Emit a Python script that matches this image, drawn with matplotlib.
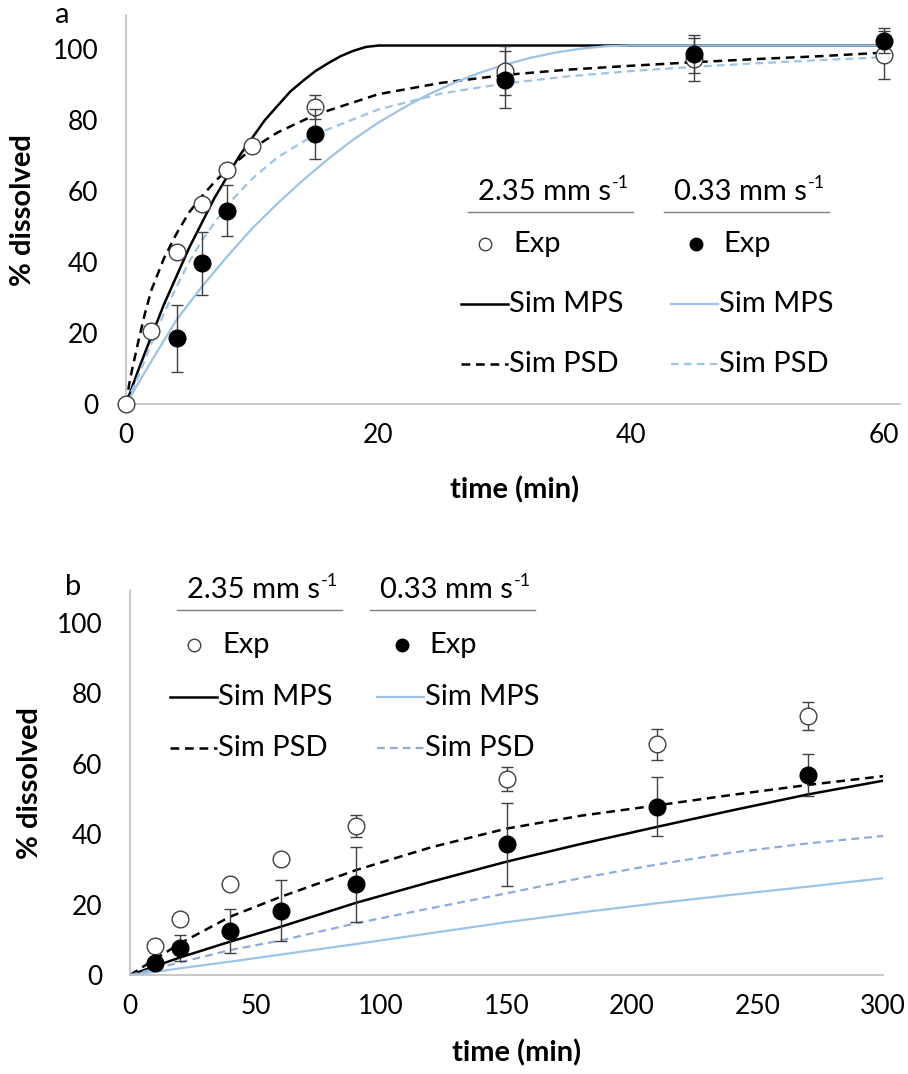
import matplotlib
matplotlib.use("Agg")
import matplotlib.pyplot as plt
from matplotlib.lines import Line2D

plt.rcParams['font.family'] = ['Lato', 'DejaVu Sans']
plt.rcParams['mathtext.fontset'] = 'custom'
plt.rcParams['mathtext.rm'] = 'Lato'
plt.rcParams['mathtext.it'] = 'Lato:italic'
plt.rcParams['mathtext.bf'] = 'Lato:bold'

# ---------------- Panel a data ----------------
a_t_exp = [0, 2, 4, 6, 8, 10, 15, 30, 45, 60]
a_fast_exp = [0, 20.6, 42.8, 56.3, 65.9, 72.7, 83.7, 93.9, 97.1, 98.3]
a_fast_err = [0, 0, 0, 0, 0, 0, 3.5, 6.9, 6.0, 6.8]
a_t_slow = [4, 6, 8, 15, 30, 45, 60]
a_slow_exp = [18.5, 39.6, 54.5, 76.1, 91.4, 98.6, 102.3]
a_slow_err = [9.4, 8.8, 7.1, 7.0, 8.0, 5.3, 3.5]

a_t_mps_fast = [0, 1, 2, 3, 4, 5, 6, 7, 8, 9, 10, 11, 12, 13, 14, 15, 16, 17, 18, 19, 20, 60]
a_mps_fast = [0, 9.8, 19, 28, 36, 44, 51, 58, 64, 70, 75, 80, 84, 88, 91, 93.8, 96, 98, 99.5, 100.6, 101, 101]
a_t_psd_fast = [0, 0.25, 0.5, 1, 1.5, 2, 3, 4, 5, 6, 7, 8, 10, 12, 15, 20, 25, 30, 35, 40, 45, 50, 55, 60]
a_psd_fast = [0, 5.5, 10, 18, 25.5, 32, 41, 48, 54, 58.5, 62.5, 66, 72, 76.5, 81.5, 87.3, 90.5, 92.7, 94.2, 95.3, 96.3, 97.2, 98, 99]
a_t_mps_slow = [0, 2, 4, 6, 8, 10, 12, 14, 16, 18, 20, 22, 24, 26, 28, 30, 32, 34, 36, 38, 40, 60]
a_mps_slow = [0, 12, 23.7, 33, 41.5, 49.5, 56.5, 63, 69, 74.5, 79.3, 83.5, 87.3, 90.5, 93.3, 95.6, 97.5, 99, 100.1, 100.8, 101, 101]
a_t_psd_slow = [0, 0.5, 1, 2, 3, 4, 5, 6, 8, 10, 12, 15, 20, 25, 30, 35, 40, 45, 50, 55, 60]
a_psd_slow = [0, 4, 8, 17, 25.5, 33, 40, 46, 56, 63.5, 69.5, 76, 83, 87.5, 90.3, 92.3, 93.8, 95, 96, 96.9, 97.7]

# ---------------- Panel b data ----------------
b_t_exp = [10, 20, 40, 60, 90, 150, 210, 270]
b_fast_exp = [8.3, 15.9, 25.8, 33.0, 42.4, 55.7, 65.5, 73.6]
b_fast_err = [0, 0, 0, 0, 3.2, 3.4, 4.4, 3.9]
b_slow_exp = [3.3, 7.6, 12.5, 18.3, 25.8, 37.2, 47.8, 56.8]
b_slow_err = [1.0, 3.7, 6.3, 8.6, 10.7, 11.8, 8.4, 6.0]

b_t_sim = [0, 10, 20, 40, 60, 90, 120, 150, 180, 210, 240, 270, 300]
b_mps_fast = [0, 2.5, 5, 9.5, 13.7, 20.5, 26.5, 32.2, 37.3, 42.1, 46.8, 51.3, 55.2]
b_psd_fast = [0, 4.5, 9, 16.6, 22.2, 29.8, 36.3, 41.6, 45.3, 48.2, 51.2, 54.0, 56.5]
b_mps_slow = [0, 0.9, 1.9, 3.8, 5.8, 8.8, 11.9, 15.0, 17.8, 20.4, 22.8, 25.1, 27.5]
b_psd_slow = [0, 1.8, 3.6, 7.1, 9.8, 14.7, 19.0, 23.2, 27.6, 31.4, 34.8, 37.4, 39.5]

BLUE = '#9DC3E6'
BLUE_D = '#8FAADC'
GRAY = '#BFBFBF'
ERR = '#404040'
TICK_FS = 19
LAB_FS = 21
LEG_FS = 21
DASH = (0, (3.5, 2.3))

W, H = 908, 1074
fig = plt.figure(figsize=(W / 100, H / 100), dpi=100)


def fx(x):
    return x / W


def fy(y):
    return 1 - y / H


def px_axes(x0, y0, x1, y1):
    return fig.add_axes([x0 / W, 1 - y1 / H, (x1 - x0) / W, (y1 - y0) / H])


def style(ax):
    for s in ['top', 'right']:
        ax.spines[s].set_visible(False)
    for s in ['left', 'bottom']:
        ax.spines[s].set_color(GRAY)
        ax.spines[s].set_linewidth(1.2)
    ax.tick_params(axis='y', length=0, labelsize=TICK_FS, pad=20)
    ax.tick_params(axis='x', length=0, labelsize=TICK_FS, pad=14)


# ---------- Panel a ----------
axa = px_axes(126, 15, 900, 404)
axa.plot(a_t_mps_fast, a_mps_fast, color='black', lw=1.8, zorder=2)
axa.plot(a_t_psd_fast, a_psd_fast, color='black', lw=1.8, ls=DASH, zorder=2)
axa.plot(a_t_mps_slow, a_mps_slow, color=BLUE, lw=1.6, zorder=2)
axa.plot(a_t_psd_slow, a_psd_slow, color=BLUE, lw=1.6, ls=DASH, zorder=2)
axa.errorbar(a_t_exp, a_fast_exp, yerr=a_fast_err, fmt='o', ms=12, mfc='white', mec='#404040',
             mew=1.0, ecolor=ERR, elinewidth=1, capsize=4, zorder=3, clip_on=False)
axa.errorbar(a_t_slow, a_slow_exp, yerr=a_slow_err, fmt='o', ms=12, mfc='black', mec='black',
             ecolor=ERR, elinewidth=1, capsize=4, zorder=4, clip_on=False)
axa.set_xlim(0, 61.3)
axa.set_ylim(0, 109.6)
axa.set_xticks([0, 20, 40, 60])
axa.set_yticks([0, 20, 40, 60, 80, 100])
style(axa)

# ---------- Panel b ----------
axb = px_axes(130, 590, 883, 975)
axb.plot(b_t_sim, b_mps_fast, color='black', lw=1.8, zorder=2)
axb.plot(b_t_sim, b_psd_fast, color='black', lw=1.8, ls=DASH, zorder=2)
axb.plot(b_t_sim, b_mps_slow, color=BLUE, lw=1.6, zorder=2)
axb.plot(b_t_sim, b_psd_slow, color=BLUE_D, lw=1.6, ls=DASH, zorder=2)
axb.errorbar(b_t_exp, b_fast_exp, yerr=b_fast_err, fmt='o', ms=12, mfc='white', mec='#404040',
             mew=1.0, ecolor=ERR, elinewidth=1, capsize=4, zorder=3)
axb.errorbar(b_t_exp, b_slow_exp, yerr=b_slow_err, fmt='o', ms=12, mfc='black', mec='black',
             ecolor=ERR, elinewidth=1, capsize=4, zorder=4)
axb.set_xlim(0, 300)
axb.set_ylim(0, 109.4)
axb.set_xticks([0, 50, 100, 150, 200, 250, 300])
axb.set_yticks([0, 20, 40, 60, 80, 100])
style(axb)

# axis titles
fig.text(fx(23), fy(210), '% dissolved', fontsize=LAB_FS, fontweight='bold', rotation=90,
         ha='center', va='center')
fig.text(fx(515), fy(490), 'time (min)', fontsize=LAB_FS, fontweight='bold', ha='center', va='center')
fig.text(fx(30), fy(783), '% dissolved', fontsize=LAB_FS, fontweight='bold', rotation=90,
         ha='center', va='center')
fig.text(fx(517), fy(1053), 'time (min)', fontsize=LAB_FS, fontweight='bold', ha='center', va='center')

# panel labels
fig.text(fx(62), fy(15), 'a', fontsize=LAB_FS, ha='center', va='center')
fig.text(fx(73), fy(587), 'b', fontsize=LAB_FS, ha='center', va='center')


# ---------- custom legends ----------
def header(xs, xe, yh, base):
    # main text plus a small raised "-1"
    t = fig.text(fx((xs + xe) / 2 - 6), fy(yh), base, fontsize=LEG_FS, ha='center', va='center')
    fig.canvas.draw()
    bb = t.get_window_extent()
    fig.text(bb.x1 / W + 1 / W, fy(yh - 9), '-1', fontsize=13, ha='left', va='center')
    fig.add_artist(Line2D([fx(xs), fx(xe)], [fy(yh + 20), fy(yh + 20)],
                          color='#7F7F7F', lw=1.0, transform=fig.transFigure))


def legend(x1, x2, yh, yexp, ympss, ypsd, col2_blue_dash):
    header(x1, x1 + 165, yh, '2.35 mm s')
    header(x2, x2 + 165, yh, '0.33 mm s')
    # Exp row
    fig.add_artist(Line2D([fx(x1 + 17)], [fy(yexp)], marker='o', ms=9, mfc='white',
                          mec='#404040', mew=1.0, transform=fig.transFigure))
    fig.text(fx(x1 + 45), fy(yexp), 'Exp', fontsize=LEG_FS, ha='left', va='center')
    fig.add_artist(Line2D([fx(x2 + 32)], [fy(yexp)], marker='o', ms=9, mfc='black',
                          mec='black', transform=fig.transFigure))
    fig.text(fx(x2 + 59), fy(yexp), 'Exp', fontsize=LEG_FS, ha='left', va='center')
    # Sim MPS
    fig.add_artist(Line2D([fx(x1 - 7), fx(x1 + 40)], [fy(ympss)] * 2, color='black', lw=1.8,
                          transform=fig.transFigure))
    fig.text(fx(x1 + 41), fy(ympss), 'Sim MPS', fontsize=LEG_FS, ha='left', va='center')
    fig.add_artist(Line2D([fx(x2 + 7), fx(x2 + 54)], [fy(ympss)] * 2, color=BLUE, lw=1.6,
                          transform=fig.transFigure))
    fig.text(fx(x2 + 55), fy(ympss), 'Sim MPS', fontsize=LEG_FS, ha='left', va='center')
    # Sim PSD
    fig.add_artist(Line2D([fx(x1 - 7), fx(x1 + 40)], [fy(ypsd)] * 2, color='black', lw=1.8,
                          ls=DASH, transform=fig.transFigure))
    fig.text(fx(x1 + 41), fy(ypsd), 'Sim PSD', fontsize=LEG_FS, ha='left', va='center')
    fig.add_artist(Line2D([fx(x2 + 7), fx(x2 + 54)], [fy(ypsd)] * 2, color=col2_blue_dash, lw=1.6,
                          ls=DASH, transform=fig.transFigure))
    fig.text(fx(x2 + 55), fy(ypsd), 'Sim PSD', fontsize=LEG_FS, ha='left', va='center')


legend(468, 664, 192, 244, 304, 364, BLUE)
legend(177, 370, 590, 645, 697, 748, BLUE_D)

fig.savefig('out.png', dpi=100)
